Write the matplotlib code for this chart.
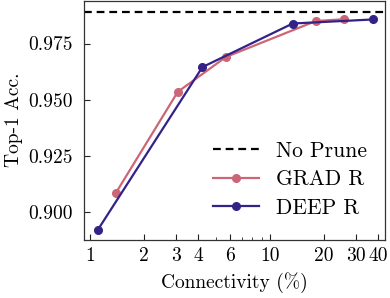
import matplotlib
matplotlib.use("Agg")
import matplotlib.pyplot as plt
from matplotlib.ticker import FixedLocator, NullFormatter

plt.rcParams['font.family'] = ['cmr10', 'DejaVu Serif']
plt.rcParams['mathtext.fontset'] = 'cm'
plt.rcParams['axes.formatter.use_mathtext'] = True

grad_x = [1.39, 3.08, 5.7, 18.0, 25.8]
grad_y = [0.9083, 0.9535, 0.9690, 0.9850, 0.9858]
deep_x = [1.11, 4.22, 13.4, 37.3]
deep_y = [0.8922, 0.9645, 0.9839, 0.9857]
no_prune = 0.9892

xticks = [1, 2, 3, 4, 6, 10, 20, 30, 40]
xticklabels = ['1', '2', '3', '4', '6', '10', '20', '30', '40']
yticks = [0.900, 0.925, 0.950, 0.975]
yticklabels = ['0.900', '0.925', '0.950', '0.975']

fig = plt.figure(figsize=(3.9, 2.98), dpi=100)
ax = fig.add_axes([0.215, 0.195, 0.772, 0.803])

ax.axhline(no_prune, color='black', ls=(0, (3.5, 2.2)), lw=1.6, label='No Prune')
ax.plot(grad_x, grad_y, color='#CC6677', lw=1.6, marker='o', ms=5.5, label='GRAD R')
ax.plot(deep_x, deep_y, color='#332288', lw=1.6, marker='o', ms=5.5, label='DEEP R')

ax.set_xscale('log')
ax.set_xlim(0.926, 43.6)
ax.set_ylim(0.8876, 0.9941)

ax.set_xticks(xticks)
ax.set_xticklabels(xticklabels)
ax.xaxis.set_minor_locator(FixedLocator([5, 7, 8, 9]))
ax.xaxis.set_minor_formatter(NullFormatter())
ax.set_yticks(yticks)
ax.set_yticklabels(yticklabels)

ax.tick_params(axis='both', which='major', direction='in', length=4, width=0.8,
               labelsize=14, colors='#222222', labelcolor='black')
ax.tick_params(axis='y', which='major', pad=8)
ax.tick_params(axis='x', which='major', pad=5)
ax.tick_params(axis='x', which='minor', direction='in', length=2.5, width=0.6, colors='#222222')
for s in ax.spines.values():
    s.set_color('#333333')
    s.set_linewidth(0.9)

ax.set_xlabel('Connectivity (%)', fontsize=14, labelpad=5)
ax.set_ylabel('Top-1 Acc.', fontsize=14, labelpad=4)

ax.legend(loc='lower right', bbox_to_anchor=(0.99, 0.03), frameon=False, fontsize=15.5,
          handlelength=2.1, handletextpad=0.8, labelspacing=0.42, borderaxespad=0.3)

fig.savefig('out.png', dpi=100)
